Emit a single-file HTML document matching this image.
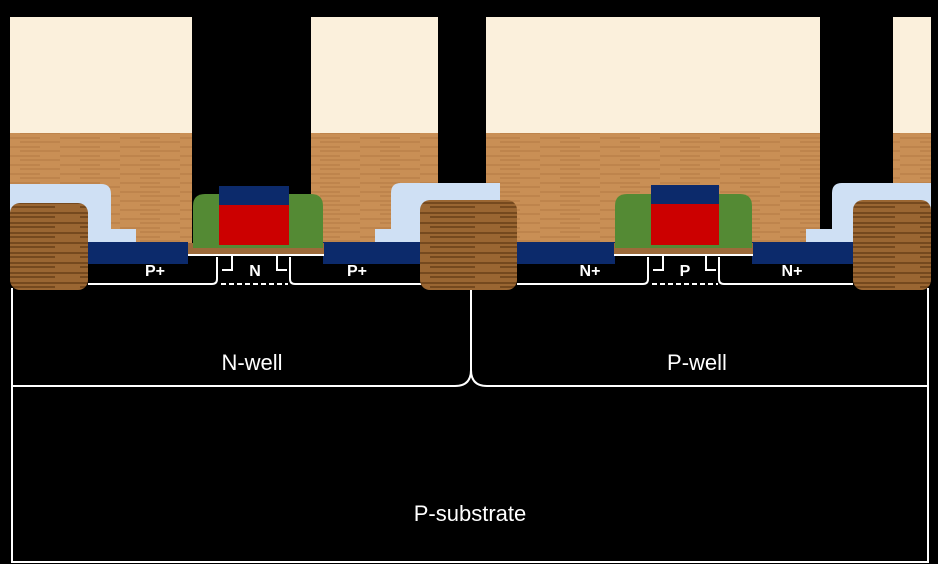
<!DOCTYPE html>
<html><head><meta charset="utf-8"><style>
html,body{margin:0;padding:0;background:#000;}
svg{display:block;}
text{font-family:"Liberation Sans",sans-serif;fill:#fff;}
</style></head><body>
<svg width="938" height="564" viewBox="0 0 938 564">
<defs>
<pattern id="woodL" width="60" height="9" patternUnits="userSpaceOnUse">
<rect width="60" height="9" fill="#c98f55"/>
<path d="M0 3 H40 M20 7 H60" stroke="#a8703c" stroke-width="1" opacity="0.7"/>
</pattern>
<pattern id="woodD" width="70" height="10" patternUnits="userSpaceOnUse">
<rect width="70" height="10" fill="#9a6632"/>
<path d="M0 3 H70 M10 7 H55" stroke="#6b4219" stroke-width="2" opacity="0.8"/>
</pattern>
</defs>
<rect width="938" height="564" fill="#000"/>
<g>
<rect x="10" y="17" width="182" height="116" fill="#fbf0dc"/>
<rect x="311" y="17" width="127" height="116" fill="#fbf0dc"/>
<rect x="486" y="17" width="334" height="116" fill="#fbf0dc"/>
<rect x="893" y="17" width="38" height="116" fill="#fbf0dc"/>
</g>
<g>
<rect x="10" y="133" width="182" height="112" fill="url(#woodL)"/>
<rect x="311" y="133" width="127" height="112" fill="url(#woodL)"/>
<rect x="486" y="133" width="334" height="112" fill="url(#woodL)"/>
<rect x="893" y="133" width="38" height="60" fill="url(#woodL)"/>
</g>
<g fill="#cfe0f4">
<path d="M10 184 H101 Q111 184 111 194 V229 H136 V243 H10 Z"/>
<path d="M500 183 H401 Q391 183 391 193 V229 H375 V243 H500 Z"/>
<path d="M931 183 H842 Q832 183 832 193 V229 H806 V243 H931 Z"/>
</g>
<g fill="#0c2a6b">
<rect x="88" y="242" width="100" height="22"/>
<rect x="323" y="242" width="98" height="22"/>
<rect x="517" y="242" width="98" height="22"/>
<rect x="752" y="242" width="101" height="22"/>
</g>
<g>
<rect x="188" y="243" width="136" height="11" fill="#9c6a3a"/>
<path d="M193 248 V206 Q193 194 205 194 H311 Q323 194 323 206 V248 Z" fill="#548a34"/>
<rect x="219" y="186" width="70" height="19" fill="#0c2a6b"/>
<rect x="219" y="205" width="70" height="40" fill="#cc0000"/>
</g>
<g>
<rect x="614" y="243" width="139" height="11" fill="#9c6a3a"/>
<path d="M615 248 V206 Q615 194 627 194 H740 Q752 194 752 206 V248 Z" fill="#548a34"/>
<rect x="651" y="185" width="68" height="19" fill="#0c2a6b"/>
<rect x="651" y="204" width="68" height="41" fill="#cc0000"/>
</g>
<g fill="none" stroke="#fff" stroke-width="2">
<path d="M188 255 H324"/>
<path d="M88 284 H212 Q217 284 217 279 V257"/>
<path d="M232 256 V270 H222"/>
<path d="M290 257 V279 Q290 284 295 284 H421"/>
<path d="M277 256 V270 H287"/>
<path d="M221 284 H288" stroke-dasharray="5 3"/>
<path d="M614 255 H753"/>
<path d="M517 284 H643 Q648 284 648 279 V257"/>
<path d="M663 256 V270 H653"/>
<path d="M719 257 V279 Q719 284 724 284 H853"/>
<path d="M706 256 V270 H716"/>
<path d="M652 284 H718" stroke-dasharray="5 3"/>
</g>
<g fill="none" stroke="#fff" stroke-width="2">
<path d="M12 288 V562 H928 V288"/>
<path d="M12 386 H455 Q471 386 471 370 V290"/>
<path d="M471 370 Q471 386 487 386 H928"/>
</g>
<g fill="url(#woodD)">
<rect x="10" y="203" width="78" height="87" rx="10"/>
<rect x="420" y="200" width="97" height="90" rx="10"/>
<rect x="853" y="200" width="78" height="90" rx="10"/>
</g>
<g font-size="16" font-weight="bold">
<text x="155" y="276" text-anchor="middle">P+</text>
<text x="255" y="276" text-anchor="middle">N</text>
<text x="357" y="276" text-anchor="middle">P+</text>
<text x="590" y="276" text-anchor="middle">N+</text>
<text x="685" y="276" text-anchor="middle">P</text>
<text x="792" y="276" text-anchor="middle">N+</text>
</g>
<g font-size="22">
<text x="252" y="370" text-anchor="middle">N-well</text>
<text x="697" y="370" text-anchor="middle">P-well</text>
<text x="470" y="521" text-anchor="middle">P-substrate</text>
</g>
</svg>
</body></html>
